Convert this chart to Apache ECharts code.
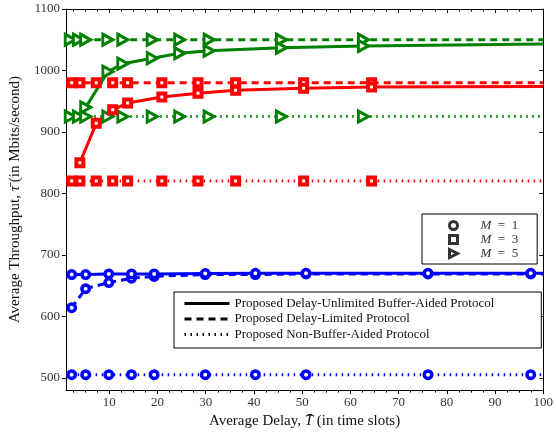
<!DOCTYPE html>
<html>
<head>
<meta charset="utf-8">
<title>Average Throughput vs Average Delay</title>
<script src="https://cdn.jsdelivr.net/npm/echarts@6.0.0/dist/echarts.min.js"></script>
<style>
  html, body { margin: 0; padding: 0; background: #fff; }
  #chart { width: 556px; height: 434px; }
</style>
</head>
<body>
<div id="chart"></div>
<script>
// Average delay (time slots) of each operating point; the final 100 entry
// carries each curve on to the right edge of the plot without a marker.
const delayM1 = [2.2, 5.1, 9.9, 14.6, 19.3, 29.9, 40.3, 50.8, 76.1, 97.4, 100];
const delayM3 = [2.2, 3.9, 7.3, 10.7, 13.8, 20.9, 28.4, 36.2, 50.3, 64.4, 100];
const delayM5 = [1.9, 3.6, 5.1, 9.7, 12.8, 18.9, 24.6, 30.7, 45.7, 62.7, 100];

// Average throughput (Mbits/second); null = no point at that delay
const unlimitedM1 = [668, 668, 669, 669, 669, 669.5, 670, 670, 670, 670, 670];
const limitedM1   = [614, 645, 655, 662, 665, 668, 668, 669, 669, 669, 669];
const nonBufferM1 = [505, 505, 505, 505, 505, 505, 505, 505, 505, 505, 505];

const unlimitedM3 = [null, 850, 914, 936, 947, 957, 963, 968, 971, 973, 974];
const limitedM3   = [980, 980, 980, 980, 980, 980, 980, 980, 980, 980, 980];
const nonBufferM3 = [820, 820, 820, 820, 820, 820, 820, 820, 820, 820, 820];

const unlimitedM5 = [null, null, 940, 998, 1011, 1020, 1028, 1032, 1037, 1040, 1043];
const limitedM5   = [1050, 1050, 1050, 1050, 1050, 1050, 1050, 1050, 1050, 1050, 1050];
const nonBufferM5 = [925, 925, 925, 925, 925, 925, 925, 925, 925, 925, 925];

const xTicks = [10, 20, 30, 40, 50, 60, 70, 80, 90, 100];
const yTicks = [500, 600, 700, 800, 900, 1000, 1100];

const protocolNames = [
  'Proposed Delay-Unlimited Buffer-Aided Protocol',
  'Proposed Delay-Limited Protocol',
  'Proposed Non-Buffer-Aided Protocol'
];
const bufferLabels = ['M = 1', 'M = 3', 'M = 5'];

// ---- styling ----
const SERIF = '"Liberation Serif", "DejaVu Serif", serif';
const BLUE = '#0000ff', RED = '#ff0000', GREEN = '#008000';
const DASH = { solid: 'solid', dashed: [7, 5], dotted: [1.5, 4.5] };
const TRIANGLE = 'path://M0,0L10,5L0,10Z';
const SQUARE = 'path://M0,0L10,0L10,10L0,10Z';

const marker = {
  circle:   { symbol: 'circle', symbolSize: 7.5, borderWidth: 3.5 },
  square:   { symbol: 'rect', symbolSize: 7, borderWidth: 4 },
  triangle: { symbol: TRIANGLE, symbolSize: [10, 11], borderWidth: 3 }
};

function curve(name, xs, ys, color, dash, mk) {
  const data = [];
  xs.forEach((x, i) => {
    if (ys[i] == null) return;
    const item = { value: [x, ys[i]] };
    if (i === xs.length - 1) item.symbol = 'none';
    data.push(item);
  });
  return {
    name: name, type: 'line', data: data,
    xAxisIndex: 0, yAxisIndex: 0,
    symbol: mk.symbol, symbolSize: mk.symbolSize,
    showAllSymbol: true,
    lineStyle: { color: color, width: 3, type: dash, cap: 'butt' },
    itemStyle: { color: '#fff', borderColor: color, borderWidth: mk.borderWidth },
    emphasis: { disabled: true },
    animation: false, silent: true
  };
}

const minorTicks = [];
for (let v = 2.5; v < 100; v += 2.5) if (v % 10 !== 0) minorTicks.push(v);

const axisLineStyle = { lineStyle: { color: '#000', width: 1 } };

const series = [
  curve('m1-nonbuffer', delayM1, nonBufferM1, BLUE, DASH.dotted, marker.circle),
  curve('m3-nonbuffer', delayM3, nonBufferM3, RED, DASH.dotted, marker.square),
  curve('m5-nonbuffer', delayM5, nonBufferM5, GREEN, DASH.dotted, marker.triangle),
  curve('m1-limited', delayM1, limitedM1, BLUE, DASH.dashed, marker.circle),
  curve('m3-limited', delayM3, limitedM3, RED, DASH.dashed, marker.square),
  curve('m5-limited', delayM5, limitedM5, GREEN, DASH.dashed, marker.triangle),
  curve('m1-unlimited', delayM1, unlimitedM1, BLUE, DASH.solid, marker.circle),
  curve('m3-unlimited', delayM3, unlimitedM3, RED, DASH.solid, marker.square),
  curve('m5-unlimited', delayM5, unlimitedM5, GREEN, DASH.solid, marker.triangle)
];

// legend-only entries (black samples)
[DASH.solid, DASH.dashed, DASH.dotted].forEach((d, i) => {
  series.push({ name: protocolNames[i], type: 'line', data: [], symbol: 'none',
    lineStyle: { color: '#000', width: 3, type: d, cap: 'butt' }, itemStyle: { color: '#000' } });
});
bufferLabels.forEach(n => {
  series.push({ name: n, type: 'scatter', data: [], itemStyle: { color: '#fff', borderColor: '#000' } });
});

const titleRich = {
  r: { fontFamily: SERIF, fontSize: 15, color: '#111' },
  i: { fontFamily: SERIF, fontSize: 15, fontStyle: 'italic', color: '#111' }
};

const option = {
  backgroundColor: '#fff',
  animation: false,
  grid: { left: 64, right: 6, top: 9, bottom: 43, containLabel: false },
  xAxis: [
    {
      type: 'value', min: 1, max: 100, position: 'bottom',
      name: '{r|Average Delay, }{i|T\u0304}{r| (in time slots)}',
      nameLocation: 'middle', nameGap: 23,
      nameTextStyle: { rich: titleRich },
      axisLine: axisLineStyle,
      axisTick: { show: true, customValues: xTicks, length: 4, lineStyle: { color: '#000' } },
      axisLabel: { customValues: xTicks, margin: 6, fontFamily: SERIF, fontSize: 13, color: '#333' },
      splitLine: { show: false }
    },
    {
      type: 'value', min: 1, max: 100, position: 'bottom',
      axisLine: { show: false },
      axisTick: { show: true, customValues: minorTicks, length: 2.5, lineStyle: { color: '#000' } },
      axisLabel: { show: false }, splitLine: { show: false }
    },
    {
      type: 'value', min: 1, max: 100, position: 'top',
      axisLine: axisLineStyle,
      axisTick: { show: true, inside: true, customValues: xTicks, length: 4, lineStyle: { color: '#000' } },
      axisLabel: { show: false }, splitLine: { show: false }
    },
    {
      type: 'value', min: 1, max: 100, position: 'top',
      axisLine: { show: false },
      axisTick: { show: true, inside: true, customValues: minorTicks, length: 2.5, lineStyle: { color: '#000' } },
      axisLabel: { show: false }, splitLine: { show: false }
    }
  ],
  yAxis: [
    {
      type: 'value', min: 480, max: 1100, position: 'left',
      name: '{r|Average Throughput, }{i|\u03C4\u0304}{r| (in Mbits/second)}',
      nameLocation: 'middle', nameGap: 42, nameRotate: 90,
      nameTextStyle: { rich: titleRich },
      axisLine: { show: true, lineStyle: { color: '#000', width: 1 } },
      axisTick: { show: true, customValues: yTicks, length: 4, lineStyle: { color: '#000' } },
      axisLabel: { customValues: yTicks, margin: 6, fontFamily: SERIF, fontSize: 13, color: '#333',
        formatter: v => String(v) },
      splitLine: { show: false }
    },
    {
      type: 'value', min: 480, max: 1100, position: 'right',
      axisLine: { show: true, lineStyle: { color: '#000', width: 1 } },
      axisTick: { show: true, inside: true, customValues: yTicks, length: 4, lineStyle: { color: '#000' } },
      axisLabel: { show: false }, splitLine: { show: false }
    }
  ],
  legend: [
    {
      data: [
        { name: bufferLabels[0], icon: 'circle' },
        { name: bufferLabels[1], icon: SQUARE },
        { name: bufferLabels[2], icon: TRIANGLE }
      ],
      orient: 'vertical', left: 422, top: 214,
      itemWidth: 44, itemHeight: 8, itemGap: 1,
      padding: [5, 19, 4, 26],
      borderColor: '#000', borderWidth: 1, backgroundColor: '#fff',
      selectedMode: false,
      itemStyle: { color: '#fff', borderColor: '#000', borderWidth: 3 },
      formatter: n => '{i|M}{r|' + n.slice(1).replace(/ /g, '\u2002') + '}',
      textStyle: { fontFamily: SERIF, fontSize: 13, lineHeight: 12.5, color: '#333',
        rich: { i: { fontStyle: 'italic', fontFamily: SERIF, fontSize: 13, lineHeight: 12.5, color: '#333' },
                r: { fontFamily: SERIF, fontSize: 13, lineHeight: 12.5, color: '#333' } } }
    },
    {
      data: protocolNames,
      orient: 'vertical', left: 174, top: 292,
      itemWidth: 45, itemHeight: 14, itemGap: 2.5,
      padding: [5, 47, 7, 9],
      borderColor: '#000', borderWidth: 1, backgroundColor: '#fff',
      selectedMode: false,
      lineStyle: { width: 3 },
      itemStyle: { color: 'rgba(0,0,0,0)', borderColor: 'rgba(0,0,0,0)', borderWidth: 0, opacity: 0 },
      textStyle: { fontFamily: SERIF, fontSize: 13, color: '#111' }
    }
  ],
  series: series
};

const chart = echarts.init(document.getElementById('chart'), null, { renderer: 'canvas' });
chart.setOption(option);
</script>
</body>
</html>
